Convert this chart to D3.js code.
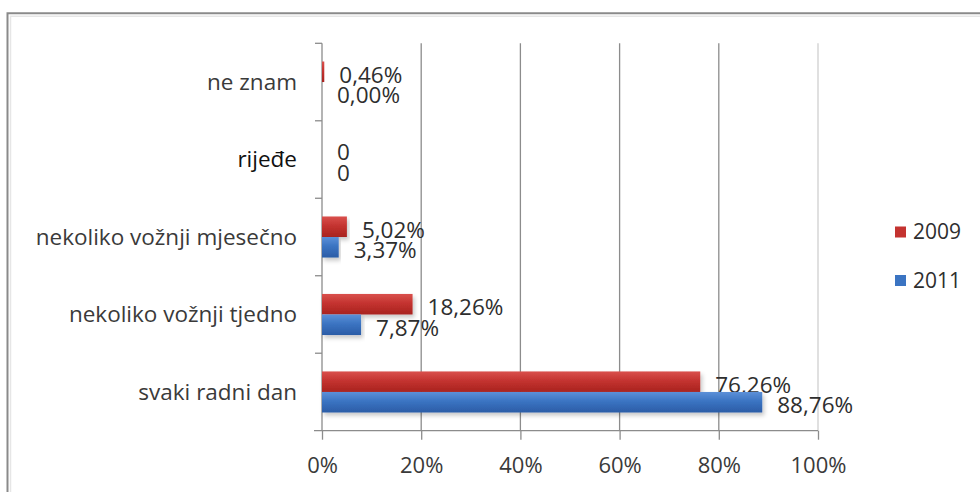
<!DOCTYPE html>
<html>
<head>
<meta charset="utf-8">
<script src="https://cdn.jsdelivr.net/npm/d3@7"></script>
<style>
  html, body { margin: 0; padding: 0; background: #fff; }
  svg { display: block; }
  text { font-family: "Open Sans", "DejaVu Sans", sans-serif; }
</style>
</head>
<body>
<svg id="chart" width="980" height="492"></svg>
<script>
// Categories, top to bottom
const categories = [
  "ne znam",
  "rijeđe",
  "nekoliko vožnji mjesečno",
  "nekoliko vožnji tjedno",
  "svaki radni dan"
];
const seriesNames = ["2009", "2011"];
// Shares in percent
const values2009 = [0.46, 0, 5.02, 18.26, 76.26];
const values2011 = [0.00, 0, 3.37, 7.87, 88.76];
// Data labels as printed next to each bar
const labels2009 = ["0,46%", "0", "5,02%", "18,26%", "76,26%"];
const labels2011 = ["0,00%", "0", "3,37%", "7,87%", "88,76%"];
const xTicks = [0, 20, 40, 60, 80, 100];
const xTickLabels = ["0%", "20%", "40%", "60%", "80%", "100%"];

const svg = d3.select("#chart");
const W = 980, H = 492;

const plot = { left: 322, right: 818, top: 43.3, bottom: 430.7 };

const defs = svg.append("defs");
function barGradient(id, top, mid, bottom) {
  const g = defs.append("linearGradient")
    .attr("id", id).attr("x1", 0).attr("y1", 0).attr("x2", 0).attr("y2", 1);
  g.append("stop").attr("offset", "0%").attr("stop-color", top);
  g.append("stop").attr("offset", "45%").attr("stop-color", mid);
  g.append("stop").attr("offset", "100%").attr("stop-color", bottom);
}
barGradient("grad2009", "#d9504c", "#c43330", "#a8231f");
barGradient("grad2011", "#5c90d8", "#3b74c2", "#2b5ca6");

const shadow = defs.append("filter").attr("id", "barShadow")
  .attr("x", "-5%").attr("y", "-20%").attr("width", "115%").attr("height", "160%");
shadow.append("feDropShadow")
  .attr("dx", 2).attr("dy", 3).attr("stdDeviation", 2)
  .attr("flood-color", "#000").attr("flood-opacity", 0.22);

// Outer chart frame (continues past the right and bottom edges)
svg.append("path")
  .attr("d", `M7.5,${H + 10} V13.3 H${W + 10}`)
  .attr("fill", "none").attr("stroke", "#8a8a8a").attr("stroke-width", 2);
svg.append("path")
  .attr("d", `M10.5,${H + 10} V16.3 H${W + 10}`)
  .attr("fill", "none").attr("stroke", "#e6e6e6").attr("stroke-width", 1.5);

const x = d3.scaleLinear().domain([0, 100]).range([plot.left, plot.right]);
const y = d3.scaleBand().domain(categories).range([plot.top, plot.bottom])
  .paddingInner(0.47).paddingOuter(0.235);
const ySub = d3.scaleBand().domain(seriesNames).range([0, y.bandwidth()]);

// Vertical gridlines
svg.append("g").selectAll("line")
  .data(xTicks.filter(d => d > 0))
  .join("line")
  .attr("x1", d => x(d)).attr("x2", d => x(d))
  .attr("y1", plot.top).attr("y2", plot.bottom)
  .attr("stroke", d => d === 100 ? "#cfcfcf" : "#8c8c8c")
  .attr("stroke-width", 1.3);

// Horizontal axis with ticks below
const xAxis = d3.axisBottom(x).tickValues(xTicks)
  .tickFormat((d, i) => xTickLabels[i]).tickSize(9).tickPadding(18);
const gx = svg.append("g").attr("transform", `translate(0,${plot.bottom})`).call(xAxis);
gx.select(".domain").remove();
gx.append("line")
  .attr("x1", plot.left - 8).attr("x2", plot.right)
  .attr("stroke", "#8c8c8c").attr("stroke-width", 1.3);
gx.selectAll(".tick line").attr("stroke", "#8c8c8c").attr("stroke-width", 1.3);
gx.selectAll(".tick text")
  .attr("fill", "#3a3a3a").style("font-size", "22px");

// Vertical axis with ticks at category boundaries
const boundaries = categories.map(c => y(c) - y.step() * y.paddingInner() / 2);
const gy = svg.append("g");
gy.append("line")
  .attr("x1", plot.left).attr("x2", plot.left)
  .attr("y1", plot.top).attr("y2", plot.bottom)
  .attr("stroke", "#8c8c8c").attr("stroke-width", 1.3);
gy.selectAll("line.tick")
  .data(boundaries)
  .join("line").attr("class", "tick")
  .attr("x1", plot.left - 7).attr("x2", plot.left)
  .attr("y1", d => d).attr("y2", d => d)
  .attr("stroke", "#8c8c8c").attr("stroke-width", 1.3);

// Category labels
gy.selectAll("text")
  .data(categories)
  .join("text")
  .attr("x", plot.left - 25)
  .attr("y", d => y(d) + y.bandwidth() / 2)
  .attr("dy", "0.35em")
  .attr("text-anchor", "end")
  .attr("fill", d => d === "rijeđe" ? "#111" : "#3a3a3a")
  .style("font-size", "22.5px")
  .text(d => d);

// Bars
const series = [
  { name: "2009", values: values2009, labels: labels2009, fill: "url(#grad2009)" },
  { name: "2011", values: values2011, labels: labels2011, fill: "url(#grad2011)" }
];

series.forEach(s => {
  const rows = categories.map((c, i) => ({ c, v: s.values[i], label: s.labels[i] }));
  const g = svg.append("g");
  g.selectAll("rect")
    .data(rows)
    .join("rect")
    .attr("x", x(0))
    .attr("y", d => y(d.c) + ySub(s.name))
    .attr("width", d => x(d.v) - x(0))
    .attr("height", ySub.bandwidth())
    .attr("fill", s.fill)
    .attr("filter", d => d.v > 1 ? "url(#barShadow)" : null);
  g.selectAll("text")
    .data(rows)
    .join("text")
    .attr("x", d => x(d.v) + 15)
    .attr("y", d => y(d.c) + ySub(s.name) + ySub.bandwidth() / 2 + 3)
    .attr("dy", "0.35em")
    .attr("fill", "#2e2e2e")
    .style("font-size", "22.5px")
    .text(d => d.label);
});

// Legend
const legend = svg.append("g");
const legendRows = [
  { name: "2009", fill: "#c43330", cy: 232 },
  { name: "2011", fill: "#3b74c2", cy: 280.5 }
];
legend.selectAll("rect")
  .data(legendRows)
  .join("rect")
  .attr("x", 895).attr("y", d => d.cy - 5.5)
  .attr("width", 11).attr("height", 11)
  .attr("fill", d => d.fill);
legend.selectAll("text")
  .data(legendRows)
  .join("text")
  .attr("x", 913).attr("y", d => d.cy).attr("dy", "0.35em")
  .attr("fill", "#2e2e2e")
  .style("font-size", "21px")
  .text(d => d.name);
</script>
</body>
</html>
